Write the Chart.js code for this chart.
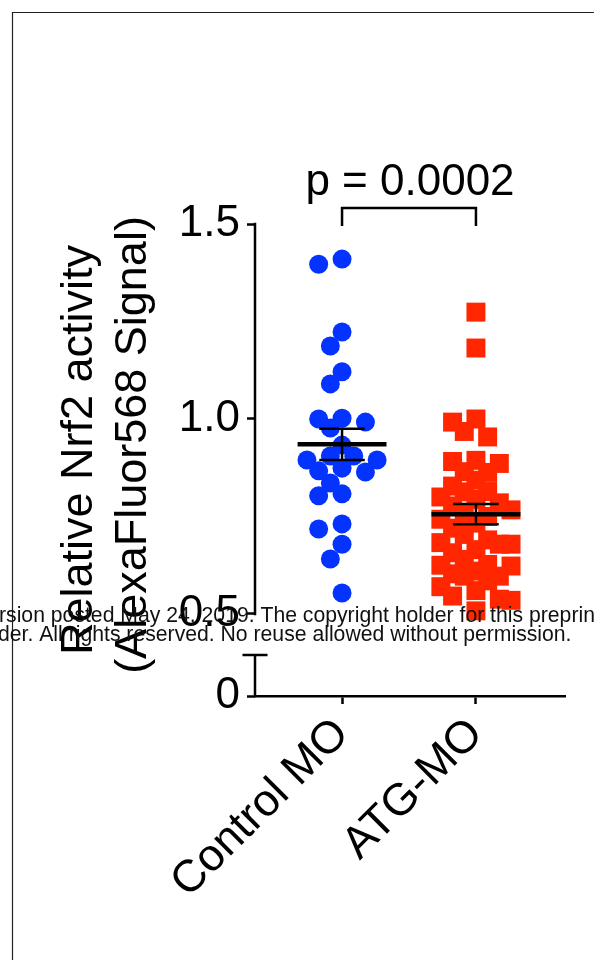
<!DOCTYPE html>
<html>
<head>
<meta charset="utf-8">
<script src="https://cdn.jsdelivr.net/npm/chart.js@4.4.0/dist/chart.umd.min.js"></script>
<style>
  html, body { margin: 0; padding: 0; background: #fff; }
  canvas { display: block; }
</style>
</head>
<body>
<canvas id="chart" width="594" height="960"></canvas>
<script>
// data
const categories = ['Control MO', 'ATG-MO']
const controlValues = [1.41, 1.397, 1.223, 1.187, 1.121, 1.09, 1.002, 1.0, 0.992, 0.977,
  0.933, 0.905, 0.905, 0.895, 0.895, 0.874, 0.867, 0.864, 0.836, 0.808,
  0.803, 0.731, 0.718, 0.679, 0.641, 0.554]
const atgValues = [1.274, 1.182, 1.0, 0.992, 0.968, 0.954, 0.894, 0.891, 0.886, 0.865,
  0.863, 0.843, 0.828, 0.814, 0.813, 0.8, 0.794, 0.785, 0.777, 0.767,
  0.755, 0.75, 0.743, 0.733, 0.72, 0.704, 0.69, 0.683, 0.679, 0.679,
  0.665, 0.657, 0.64, 0.627, 0.625, 0.623, 0.61, 0.603, 0.597, 0.597,
  0.585, 0.57, 0.56, 0.546, 0.538, 0.535, 0.508]
const groupMeans = [0.935, 0.756]
const groupSems = [0.04, 0.026]
const yTickValues = [0.5, 1.0, 1.5]
const pValueLabel = 'p = 0.0002'
const yTitle = ['Relative Nrf2 activity', '(AlexaFluor568 Signal)']
const watermark = [
  'rsion posted May 24, 2019. The copyright holder for this preprint',
  'der. All rights reserved. No reuse allowed without permission.'
]

// axis layout (broken y axis: lower stub stands for 0)
const Y_BOTTOM = 0.2897
const BREAK_TOP = 0.395
const BRACKET_Y = 1.541
const BRACKET_FOOT = 1.495
const FONT = '"Liberation Sans", Arial, Helvetica, sans-serif'
const BLUE = '#0433ff'
const RED = '#ff2600'

// beeswarm spread (slot step ~11.7px, dot 19px, 390px per y unit, 7 slots)
const SLOT = 0.0873
const DOT = 19
const PX_PER_Y = 390
const SLOTS = [0, -1, 1, -2, 2, -3, 3]

function swarm(values, center) {
  const placed = []
  values.slice().sort((a, b) => b - a).forEach(v => {
    let slot = SLOTS.find(s => !placed.some(p => {
      const dy = Math.abs(p.v - v) * PX_PER_Y
      const ds = Math.abs(p.slot - s)
      return (ds === 0 && dy < DOT) || (ds === 1 && dy < DOT * 0.3)
    }))
    if (slot === undefined) {
      // crowded: take the column with the most room
      let best = -1
      SLOTS.forEach(s => {
        const room = Math.min(Infinity, ...placed.filter(p => p.slot === s)
          .map(p => Math.abs(p.v - v) * PX_PER_Y))
        if (room > best) { best = room; slot = s }
      })
    }
    placed.push({ v, slot })
  })
  return placed.map(p => ({ x: center + p.slot * SLOT, y: p.v }))
}

function segment(points, width) {
  return {
    data: points,
    showLine: true,
    borderColor: '#000',
    borderWidth: width,
    pointRadius: 0,
    clip: false,
    order: 0
  }
}

function summary(i) {
  const c = i + 1
  const m = groupMeans[i]
  const s = groupSems[i]
  return [
    segment([{ x: c - 0.332, y: m }, { x: c + 0.332, y: m }], 4.5),
    segment([{ x: c, y: m - s }, { x: c, y: m + s }], 2.5),
    segment([{ x: c - 0.17, y: m + s }, { x: c + 0.17, y: m + s }], 2.5),
    segment([{ x: c - 0.17, y: m - s }, { x: c + 0.17, y: m - s }], 2.5)
  ]
}

const extras = {
  id: 'extras',
  afterDatasetsDraw(chart) {
    const { ctx, chartArea, scales: { x, y } } = chart
    const left = chartArea.left
    ctx.save()
    ctx.strokeStyle = '#000'
    ctx.lineWidth = 2.5
    ctx.lineCap = 'butt'
    // upper segment of y axis
    ctx.beginPath()
    ctx.moveTo(left, y.getPixelForValue(1.5) - 1.25)
    ctx.lineTo(left, y.getPixelForValue(0.5) + 1.25)
    ctx.stroke()
    // lower stub with cap
    const capY = y.getPixelForValue(BREAK_TOP)
    ctx.beginPath()
    ctx.moveTo(left, y.getPixelForValue(Y_BOTTOM))
    ctx.lineTo(left, capY)
    ctx.moveTo(left - 12.5, capY)
    ctx.lineTo(left + 12.5, capY)
    ctx.stroke()
    // p value
    ctx.fillStyle = '#000'
    ctx.font = '44px ' + FONT
    ctx.textAlign = 'center'
    ctx.textBaseline = 'alphabetic'
    const mid = (x.getPixelForValue(1) + x.getPixelForValue(2)) / 2
    ctx.fillText(pValueLabel, mid + 1, y.getPixelForValue(BRACKET_Y) - 13)
    ctx.restore()
  },
  afterDraw(chart) {
    const { ctx } = chart
    ctx.save()
    // y title
    ctx.fillStyle = '#000'
    ctx.font = '45px ' + FONT
    ctx.textAlign = 'center'
    ctx.textBaseline = 'middle'
    const titlePos = [[80, 450], [134, 445]]
    yTitle.forEach((t, i) => {
      ctx.save()
      ctx.translate(titlePos[i][0], titlePos[i][1])
      ctx.rotate(-Math.PI / 2)
      ctx.fillText(t, 0, 0)
      ctx.restore()
    })
    // frame
    ctx.strokeStyle = '#222'
    ctx.lineWidth = 1.2
    ctx.beginPath()
    ctx.moveTo(12.5, 960)
    ctx.lineTo(12.5, 12.5)
    ctx.lineTo(594, 12.5)
    ctx.stroke()
    // preprint watermark
    ctx.fillStyle = '#111'
    ctx.font = '21.2px ' + FONT
    ctx.textAlign = 'left'
    ctx.textBaseline = 'alphabetic'
    ctx.fillText(watermark[0], -1, 622)
    ctx.fillText(watermark[1], -2, 641)
    ctx.restore()
  }
}

const ctx = document.getElementById('chart').getContext('2d')
const chart = new Chart(ctx, {
  type: 'scatter',
  data: {
    datasets: [
      ...summary(0),
      ...summary(1),
      segment([
        { x: 1, y: BRACKET_FOOT }, { x: 1, y: BRACKET_Y },
        { x: 2, y: BRACKET_Y }, { x: 2, y: BRACKET_FOOT }
      ], 2.5),
      {
        label: categories[0],
        data: swarm(controlValues, 1),
        pointStyle: 'circle',
        pointRadius: 9.5,
        pointBorderWidth: 0,
        backgroundColor: BLUE,
        borderColor: BLUE,
        order: 2
      },
      {
        label: categories[1],
        data: swarm(atgValues, 2),
        pointStyle: 'rect',
        pointRadius: 13.4,
        pointBorderWidth: 0,
        backgroundColor: RED,
        borderColor: RED,
        order: 2
      }
    ]
  },
  options: {
    responsive: false,
    animation: false,
    devicePixelRatio: 1,
    layout: { padding: { top: 224, right: 29, bottom: 0, left: 0 } },
    plugins: {
      legend: { display: false },
      tooltip: { enabled: false }
    },
    scales: {
      x: {
        type: 'linear',
        min: 0.35,
        max: 2.665,
        afterFit: s => { s.height = 264 },
        afterBuildTicks: s => { s.ticks = [1, 2].map(value => ({ value })) },
        border: { display: true, color: '#000', width: 2.5 },
        grid: { drawOnChartArea: false, drawTicks: true, tickLength: 8, tickWidth: 2.5, tickColor: '#000' },
        ticks: {
          autoSkip: false,
          minRotation: 45,
          maxRotation: 45,
          padding: 4,
          color: '#000',
          font: { family: FONT, size: 45 },
          callback: v => categories[Math.round(v) - 1]
        }
      },
      y: {
        type: 'linear',
        min: Y_BOTTOM,
        max: 1.5,
        afterFit: s => { s.width = 255 },
        afterBuildTicks: s => { s.ticks = [Y_BOTTOM, ...yTickValues].map(value => ({ value })) },
        border: { display: false },
        grid: { drawOnChartArea: false, drawTicks: true, tickLength: 8, tickWidth: 2.5, tickColor: '#000' },
        ticks: {
          padding: 7,
          color: '#000',
          font: { family: FONT, size: 44 },
          callback: v => v === Y_BOTTOM ? '0' : v.toFixed(1)
        }
      }
    }
  },
  plugins: [extras]
})
</script>
</body>
</html>
